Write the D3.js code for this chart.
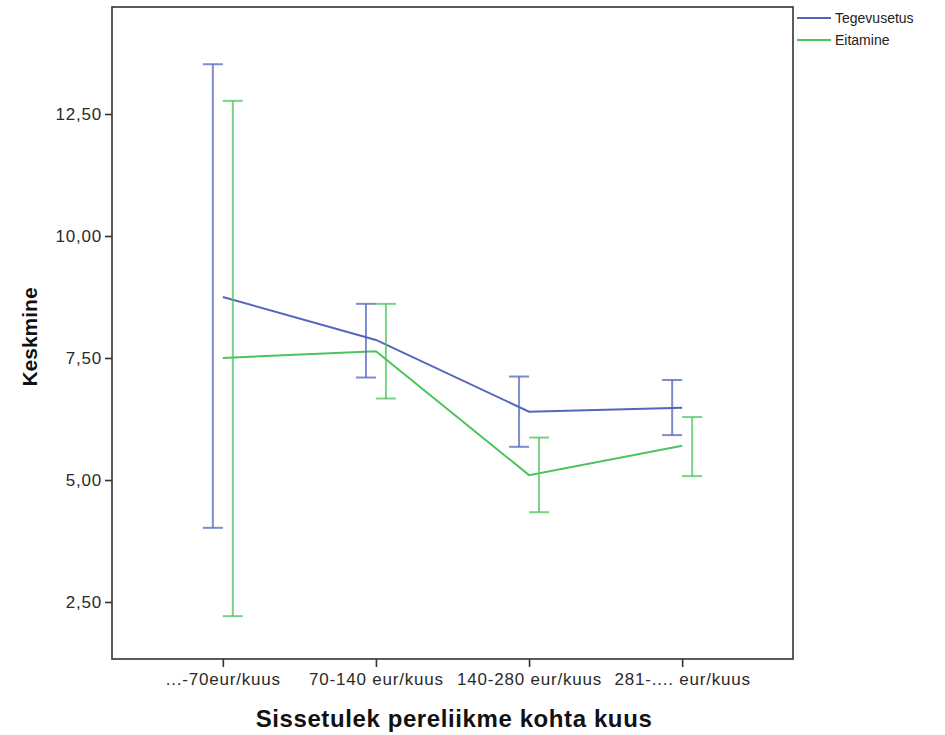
<!DOCTYPE html>
<html lang="et">
  <head>
    <meta charset="utf-8">
    <title>Keskmine sissetuleku järgi</title>
  </head>
  <style>
    body { margin: 0; background: #fff; }
    text { font-family: 'Liberation Sans', Arial, sans-serif; }
  </style>
  <body>
    <div id="chart-area"></div>
    <script src="https://cdn.jsdelivr.net/npm/d3@7"></script>
    <script>
      const svg_width = 945;
      const svg_height = 735;

      // data
      const categories = ['...-70eur/kuus', '70-140 eur/kuus', '140-280 eur/kuus', '281-.... eur/kuus'];
      const series_names = ['Tegevusetus', 'Eitamine'];
      const tegevusetus_mean = [8.75, 7.87, 6.40, 6.48];
      const tegevusetus_low = [4.02, 7.10, 5.68, 5.92];
      const tegevusetus_high = [13.52, 8.61, 7.12, 7.05];
      const eitamine_mean = [7.50, 7.64, 5.10, 5.70];
      const eitamine_low = [2.21, 6.67, 4.34, 5.08];
      const eitamine_high = [12.77, 8.61, 5.87, 6.29];
      const y_ticks = [2.5, 5, 7.5, 10, 12.5];
      const colors = ['#5366bd', '#4cc45c'];

      const series = [
        {name: series_names[0], mean: tegevusetus_mean, low: tegevusetus_low, high: tegevusetus_high, color: colors[0], offset: -10},
        {name: series_names[1], mean: eitamine_mean, low: eitamine_low, high: eitamine_high, color: colors[1], offset: 10}
      ];

      const plot = {left: 112, top: 7, right: 793, bottom: 659};
      const font = "'Liberation Sans', Arial, sans-serif";

      const x_scale = d3.scalePoint()
        .domain(categories)
        .range([plot.left, plot.right])
        .padding(0.724);
      const y_scale = d3.scaleLinear()
        .domain([1.332, 14.693])
        .range([plot.bottom, plot.top]);

      const svg = d3.select('#chart-area')
        .append('svg')
        .attr('width', svg_width)
        .attr('height', svg_height);

      //frame
      svg.append('rect')
        .attr('x', plot.left)
        .attr('y', plot.top)
        .attr('width', plot.right - plot.left)
        .attr('height', plot.bottom - plot.top)
        .attr('fill', 'none')
        .attr('stroke', '#333')
        .attr('stroke-width', 1.6);

      //y axis
      const y_axis = svg.append('g')
        .attr('transform', `translate(${plot.left},0)`)
        .call(d3.axisLeft(y_scale)
          .tickValues(y_ticks)
          .tickSize(7)
          .tickPadding(3)
          .tickFormat(d => d3.format('.2f')(d).replace('.', ',')));
      y_axis.select('.domain').remove();
      y_axis.selectAll('line').attr('stroke', '#333').attr('stroke-width', 1.6);
      y_axis.selectAll('text')
        .attr('font-size', 17)
        .attr('letter-spacing', 0.8)
        .attr('fill', '#2a2a2a')
        .style('font-family', font);

      //x axis
      const x_axis = svg.append('g')
        .attr('transform', `translate(0,${plot.bottom})`)
        .call(d3.axisBottom(x_scale).tickSize(8).tickPadding(6));
      x_axis.select('.domain').remove();
      x_axis.selectAll('line').attr('stroke', '#333').attr('stroke-width', 1.6);
      x_axis.selectAll('text')
        .attr('font-size', 17)
        .attr('letter-spacing', 0.8)
        .attr('fill', '#2a2a2a')
        .style('font-family', font);

      //axis titles
      svg.append('text')
        .attr('transform', `translate(37,337) rotate(-90)`)
        .attr('text-anchor', 'middle')
        .attr('font-size', 21)
        .attr('font-weight', 'bold')
        .attr('fill', '#111')
        .text('Keskmine');
      svg.append('text')
        .attr('x', 454)
        .attr('y', 727)
        .attr('text-anchor', 'middle')
        .attr('font-size', 24)
        .attr('letter-spacing', 0.6)
        .attr('font-weight', 'bold')
        .attr('fill', '#111')
        .text('Sissetulek pereliikme kohta kuus');

      //lines
      const line = d3.line()
        .x((d, i) => x_scale(categories[i]))
        .y(d => y_scale(d));
      series.forEach(s => {
        svg.append('path')
          .attr('d', line(s.mean))
          .attr('fill', 'none')
          .attr('stroke', s.color)
          .attr('stroke-width', 2);
      });

      //error bars
      series.forEach(s => {
        const g = svg.append('g')
          .attr('stroke', s.color)
          .attr('stroke-width', 2)
          .attr('stroke-opacity', 0.75);
        categories.forEach((c, i) => {
          const cx = x_scale(c) + s.offset;
          g.append('line')
            .attr('x1', cx).attr('x2', cx)
            .attr('y1', y_scale(s.low[i])).attr('y2', y_scale(s.high[i]));
          [s.low[i], s.high[i]].forEach(v => {
            g.append('line')
              .attr('x1', cx - 10).attr('x2', cx + 10)
              .attr('y1', y_scale(v)).attr('y2', y_scale(v));
          });
        });
      });

      //legend
      const legend = svg.selectAll('.legend')
        .data(series)
        .enter()
        .append('g')
        .attr('class', 'legend')
        .attr('transform', (d, i) => `translate(797,${18 + i * 22})`);
      legend.append('line')
        .attr('x1', 0).attr('x2', 34)
        .attr('stroke', d => d.color)
        .attr('stroke-width', 2);
      legend.append('text')
        .attr('x', 38)
        .attr('y', 5)
        .attr('font-size', 14)
        .attr('fill', '#222')
        .text(d => d.name);
    </script>
  </body>
</html>
